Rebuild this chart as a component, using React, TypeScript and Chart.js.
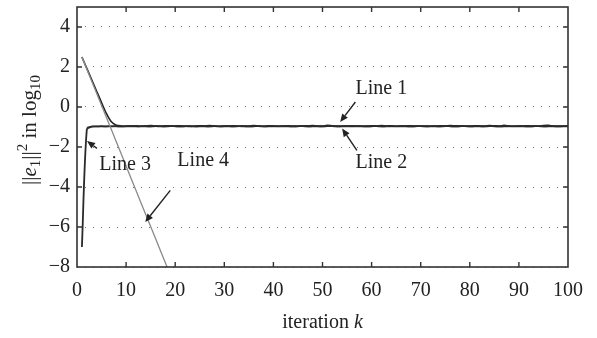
import { useEffect, useRef } from "react";
import { Chart, registerables } from "chart.js";

Chart.register(...registerables);

const FONT = '"Liberation Serif", "Times New Roman", serif';

const iterations = [
  1, 2, 3, 4, 5, 6, 7, 8, 9, 10, 11, 12, 13, 14, 15, 16, 17, 18, 19, 20,
  21, 22, 23, 24, 25, 26, 27, 28, 29, 30, 31, 32, 33, 34, 35, 36, 37, 38, 39, 40,
  41, 42, 43, 44, 45, 46, 47, 48, 49, 50, 51, 52, 53, 54, 55, 56, 57, 58, 59, 60,
  61, 62, 63, 64, 65, 66, 67, 68, 69, 70, 71, 72, 73, 74, 75, 76, 77, 78, 79, 80,
  81, 82, 83, 84, 85, 86, 87, 88, 89, 90, 91, 92, 93, 94, 95, 96, 97, 98, 99, 100,
];

const line1 = [
  2.5, 1.93, 1.36, 0.79, 0.22, -0.33, -0.74, -0.91, -0.95, -0.96,
  -0.95, -0.94, -0.96, -0.95, -0.93, -0.95, -0.96, -0.94, -0.95, -0.95,
  -0.94, -0.96, -0.97, -0.95, -0.94, -0.95, -0.93, -0.95, -0.96, -0.95,
  -0.95, -0.94, -0.96, -0.95, -0.95, -0.93, -0.95, -0.96, -0.94, -0.95,
  -0.96, -0.95, -0.94, -0.95, -0.96, -0.95, -0.94, -0.93, -0.95, -0.95,
  -0.92, -0.94, -0.95, -0.96, -0.95, -0.94, -0.95, -0.96, -0.95, -0.94,
  -0.95, -0.93, -0.95, -0.94, -0.96, -0.95, -0.95, -0.94, -0.95, -0.96,
  -0.95, -0.96, -0.95, -0.94, -0.95, -0.93, -0.94, -0.95, -0.96, -0.95,
  -0.94, -0.95, -0.95, -0.93, -0.94, -0.95, -0.92, -0.95, -0.96, -0.95,
  -0.95, -0.94, -0.95, -0.96, -0.93, -0.92, -0.95, -0.95, -0.96, -0.95,
];

const line2 = [
  null, -1.02, -0.98, -0.97, -0.98, -0.97, -0.96, -0.97, -0.98, -0.97,
  -0.97, -0.96, -0.98, -0.97, -0.97, -0.96, -0.98, -0.97, -0.96, -0.97,
  -0.98, -0.97, -0.96, -0.97, -0.97, -0.98, -0.97, -0.96, -0.97, -0.98,
  -0.97, -0.97, -0.96, -0.98, -0.97, -0.97, -0.96, -0.97, -0.98, -0.97,
  -0.96, -0.97, -0.97, -0.98, -0.97, -0.96, -0.97, -0.97, -0.98, -0.97,
  -0.96, -0.95, -0.97, -0.98, -0.97, -0.96, -0.97, -0.98, -0.97, -0.97,
  -0.96, -0.97, -0.98, -0.97, -0.96, -0.97, -0.97, -0.98, -0.97, -0.96,
  -0.97, -0.98, -0.97, -0.97, -0.96, -0.97, -0.98, -0.97, -0.96, -0.97,
  -0.97, -0.98, -0.97, -0.96, -0.97, -0.97, -0.98, -0.97, -0.96, -0.97,
  -0.97, -0.98, -0.97, -0.96, -0.97, -0.97, -0.98, -0.97, -0.97, -0.97,
];

const line3 = [
  -7.0, -1.12, -0.98, -0.97, -0.96, -0.97, -0.97, -0.96, -0.97, -0.96,
  -0.96, -0.97, -0.96, -0.96, -0.97, -0.96, -0.96, -0.97, -0.96, -0.96,
  -0.97, -0.96, -0.96, -0.97, -0.96, -0.96, -0.97, -0.96, -0.97, -0.96,
  -0.96, -0.97, -0.96, -0.96, -0.97, -0.96, -0.96, -0.97, -0.96, -0.96,
  -0.97, -0.96, -0.96, -0.97, -0.96, -0.96, -0.97, -0.96, -0.96, -0.97,
  -0.96, -0.96, -0.97, -0.96, -0.96, -0.97, -0.96, -0.96, -0.97, -0.96,
  -0.96, -0.97, -0.96, -0.96, -0.97, -0.96, -0.96, -0.97, -0.96, -0.96,
  -0.97, -0.96, -0.96, -0.97, -0.96, -0.96, -0.97, -0.96, -0.96, -0.97,
  -0.96, -0.96, -0.97, -0.96, -0.96, -0.97, -0.96, -0.96, -0.97, -0.96,
  -0.96, -0.97, -0.96, -0.96, -0.97, -0.96, -0.96, -0.97, -0.96, -0.96,
];

const line4 = [
  2.5, 1.9, 1.29, 0.69, 0.08, -0.53, -1.13, -1.74, -2.34, -2.95,
  -3.56, -4.16, -4.77, -5.37, -5.98, -6.58, -7.19, -7.79, -8.4,
];

const xTicks = [0, 10, 20, 30, 40, 50, 60, 70, 80, 90, 100];
const yTicks = [-8, -6, -4, -2, 0, 2, 4];

// label text, text anchor (data), arrow tail (data), arrow head (data)
const annotationLabels = ["Line 1", "Line 2", "Line 3", "Line 4"];
const annotationText = [
  [62, 0.93],
  [62, -2.8],
  [9.8, -2.9],
  [25.7, -2.67],
];
const annotationTail = [
  [56.7, 0.25],
  [57.0, -2.17],
  [4.07, -2.07],
  [19.0, -4.17],
];
const annotationHead = [
  [53.6, -0.75],
  [54.0, -1.08],
  [2.04, -1.7],
  [13.9, -5.75],
];

const toPoints = (ys: (number | null)[]) =>
  ys.map((y, i) => ({ x: iterations[i], y }));

const framePlugin = {
  id: "framePlugin",
  afterDraw(chart: any) {
    const ctx = chart.ctx as CanvasRenderingContext2D;
    const { left, right, top, bottom } = chart.chartArea;
    const xs = chart.scales.x;
    const ys = chart.scales.y;
    ctx.save();

    // frame
    ctx.strokeStyle = "#333";
    ctx.lineWidth = 1.6;
    ctx.strokeRect(left, top, right - left, bottom - top);

    // inward ticks
    ctx.lineWidth = 1.4;
    const tl = 5;
    ctx.beginPath();
    for (const v of xTicks) {
      const px = xs.getPixelForValue(v);
      if (px <= left + 1 || px >= right - 1) continue;
      ctx.moveTo(px, bottom);
      ctx.lineTo(px, bottom - tl);
      ctx.moveTo(px, top);
      ctx.lineTo(px, top + tl);
    }
    for (const v of yTicks) {
      const py = ys.getPixelForValue(v);
      if (py >= bottom - 1 || py <= top + 1) continue;
      ctx.moveTo(left, py);
      ctx.lineTo(left + tl, py);
      ctx.moveTo(right, py);
      ctx.lineTo(right - tl, py);
    }
    ctx.stroke();

    // annotations
    ctx.fillStyle = "#222";
    ctx.strokeStyle = "#222";
    ctx.font = `20px ${FONT}`;
    ctx.textAlign = "center";
    ctx.textBaseline = "middle";
    annotationLabels.forEach((label, i) => {
      const tx = xs.getPixelForValue(annotationText[i][0]);
      const ty = ys.getPixelForValue(annotationText[i][1]);
      ctx.fillText(label, tx, ty);
      const x0 = xs.getPixelForValue(annotationTail[i][0]);
      const y0 = ys.getPixelForValue(annotationTail[i][1]);
      const x1 = xs.getPixelForValue(annotationHead[i][0]);
      const y1 = ys.getPixelForValue(annotationHead[i][1]);
      const ang = Math.atan2(y1 - y0, x1 - x0);
      const hl = 8;
      const hw = 3.5;
      const bx = x1 - hl * Math.cos(ang);
      const by = y1 - hl * Math.sin(ang);
      ctx.lineWidth = 1.4;
      ctx.beginPath();
      ctx.moveTo(x0, y0);
      ctx.lineTo(bx, by);
      ctx.stroke();
      ctx.beginPath();
      ctx.moveTo(x1, y1);
      ctx.lineTo(bx + hw * Math.sin(ang), by - hw * Math.cos(ang));
      ctx.lineTo(bx - hw * Math.sin(ang), by + hw * Math.cos(ang));
      ctx.closePath();
      ctx.fill();
    });

    // x title: "iteration k"
    ctx.textBaseline = "alphabetic";
    ctx.textAlign = "left";
    const normal = `20px ${FONT}`;
    const italic = `italic 20px ${FONT}`;
    const small = `15px ${FONT}`;
    ctx.font = normal;
    const w1 = ctx.measureText("iteration ").width;
    ctx.font = italic;
    const w2 = ctx.measureText("k").width;
    const cx = (left + right) / 2;
    const startX = cx - (w1 + w2) / 2;
    const baseY = 328;
    ctx.font = normal;
    ctx.fillText("iteration ", startX, baseY);
    ctx.font = italic;
    ctx.fillText("k", startX + w1, baseY);

    // y title: ||e1||^2 in log10
    const titleNormal = `21px ${FONT}`;
    const titleItalic = `italic 21px ${FONT}`;
    const titleSmall = `15px ${FONT}`;
    const runs: [string, string, number][] = [
      ["||", titleNormal, 0],
      ["e", titleItalic, 0],
      ["1", titleSmall, 4],
      ["||", titleNormal, 0],
      ["2", titleSmall, -9],
      [" in log", titleNormal, 0],
      ["10", titleSmall, 4],
    ];
    let total = 0;
    for (const [t, f] of runs) {
      ctx.font = f;
      total += ctx.measureText(t).width;
    }
    ctx.translate(36, 130);
    ctx.rotate(-Math.PI / 2);
    let x = -total / 2;
    for (const [t, f, dy] of runs) {
      ctx.font = f;
      ctx.fillText(t, x, dy);
      x += ctx.measureText(t).width;
    }
    ctx.restore();
  },
};

export default function App() {
  const canvasRef = useRef<HTMLCanvasElement | null>(null);

  useEffect(() => {
    const canvas = canvasRef.current;
    if (!canvas) return;
    const chart = new Chart(canvas, {
      type: "line",
      data: {
        datasets: [
          {
            label: "Line 4",
            data: toPoints(line4),
            borderColor: "#8a8a8a",
            borderWidth: 1.3,
            pointRadius: 0,
            tension: 0,
          },
          {
            label: "Line 3",
            data: toPoints(line3),
            borderColor: "#2a2a2a",
            borderWidth: 1.8,
            pointRadius: 0,
            tension: 0.3,
          },
          {
            label: "Line 2",
            data: toPoints(line2),
            borderColor: "#3a3a3a",
            borderWidth: 1.5,
            pointRadius: 0,
            tension: 0.3,
          },
          {
            label: "Line 1",
            data: toPoints(line1),
            borderColor: "#222",
            borderWidth: 1.6,
            pointRadius: 0,
            tension: 0.3,
          },
        ],
      },
      plugins: [framePlugin],
      options: {
        responsive: false,
        animation: false,
        devicePixelRatio: 1,
        layout: { padding: { top: 7, right: 29, left: 0, bottom: 0 } },
        plugins: {
          legend: { display: false },
          tooltip: { enabled: false },
        },
        scales: {
          x: {
            type: "linear",
            min: 0,
            max: 100,
            afterFit: (s: any) => {
              s.height = 71;
              s.paddingLeft = 0;
              s.paddingRight = 0;
            },
            afterBuildTicks: (s: any) => {
              s.ticks = xTicks.map((v) => ({ value: v }));
            },
            grid: { display: false, drawTicks: false },
            border: { display: false },
            ticks: {
              padding: 12,
              color: "#222",
              font: { family: FONT, size: 20 },
              maxRotation: 0,
            },
          },
          y: {
            type: "linear",
            min: -8,
            max: 5,
            afterFit: (s: any) => {
              s.width = 77;
              s.paddingTop = 0;
              s.paddingBottom = 0;
            },
            afterBuildTicks: (s: any) => {
              s.ticks = yTicks.map((v) => ({ value: v }));
            },
            grid: {
              color: "#777",
              lineWidth: 1,
              drawTicks: false,
            },
            border: { display: false },
            ticks: {
              padding: 7,
              color: "#222",
              font: { family: FONT, size: 20 },
              callback: (v: any) => (v < 0 ? "\u2212" + Math.abs(v) : String(v)),
            },
          },
        },
      },
    } as any);
    (chart.options.scales as any).y.grid.borderDash = [1, 7];
    (chart.options.scales as any).y.border.dash = [1, 7];
    chart.update();
    return () => chart.destroy();
  }, []);

  return (
    <div style={{ position: "fixed", left: 0, top: 0, width: 597, height: 338, background: "#fff" }}>
      <canvas ref={canvasRef} width={597} height={338} />
    </div>
  );
}
